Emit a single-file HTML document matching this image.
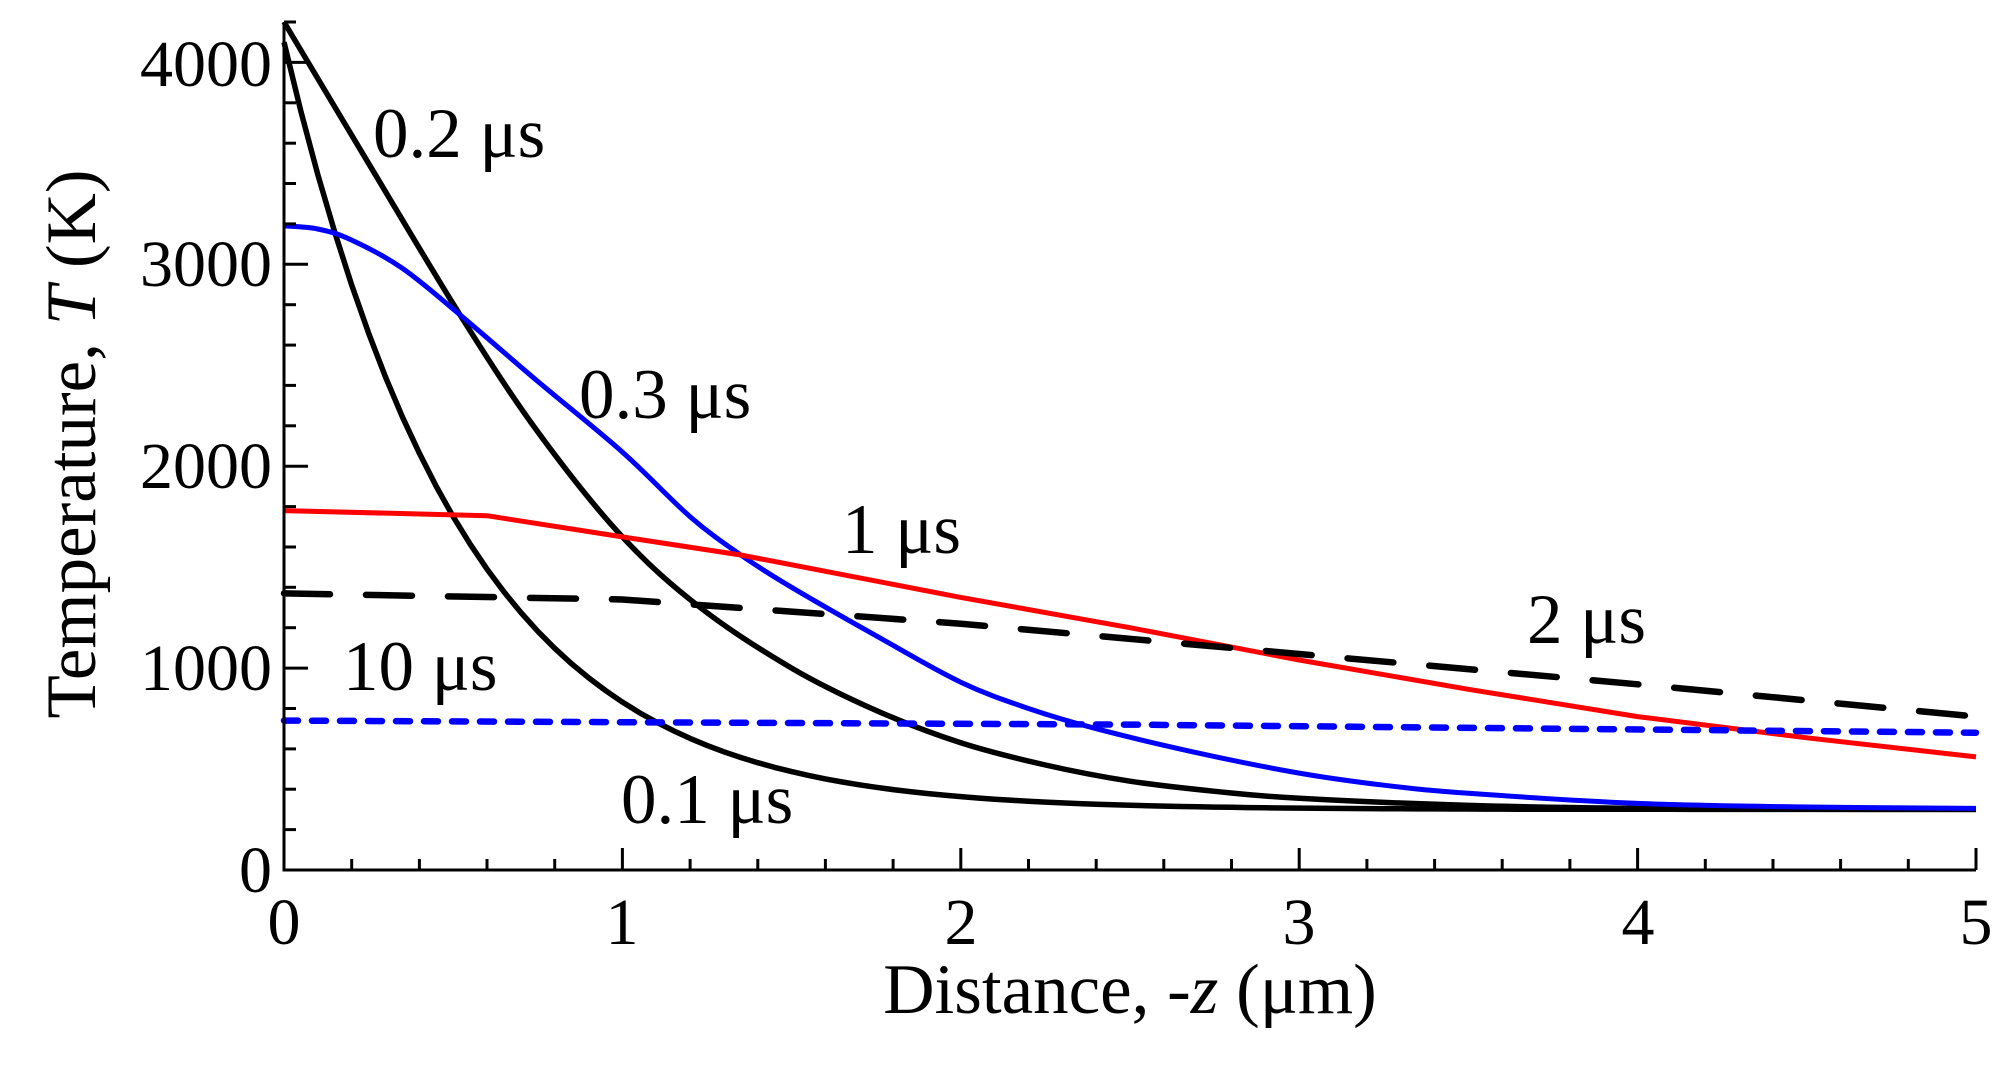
<!DOCTYPE html>
<html><head><meta charset="utf-8"><style>
html,body{margin:0;padding:0;background:#fff;}
svg{display:block;}
text{font-family:"Liberation Serif",serif;fill:#000;}
</style></head><body>
<svg id="s" width="2016" height="1076" viewBox="0 0 2016 1076" xmlns="http://www.w3.org/2000/svg">
<g id="curves" fill="none" stroke-linejoin="round"></g>
<g id="axes" stroke="#000" stroke-width="3" fill="none"></g>
<g font-size="66" text-anchor="end">
<text x="272" y="892">0</text>
<text x="272" y="690">1000</text>
<text x="272" y="488">2000</text>
<text x="272" y="286">3000</text>
<text x="272" y="86">4000</text>
</g>
<g font-size="66" text-anchor="middle">
<text x="284" y="944">0</text>
<text x="622" y="944">1</text>
<text x="961" y="944">2</text>
<text x="1299" y="944">3</text>
<text x="1638" y="944">4</text>
<text x="1976" y="944">5</text>
</g>
<g font-size="71" text-anchor="middle">
<text x="1130" y="1013">Distance, -<tspan font-style="italic">z</tspan> (μm)</text>
<text transform="translate(95,444) rotate(-90)">Temperature,  <tspan font-style="italic">T</tspan> (K)</text>
</g>
<g font-size="71">
<text x="373" y="157">0.2 μs</text>
<text x="579" y="418">0.3 μs</text>
<text x="842" y="553">1 μs</text>
<text x="1527" y="643">2 μs</text>
<text x="343" y="690">10 μs</text>
<text x="621" y="823">0.1 μs</text>
</g>
</svg>
<script>
var X=function(z){return 284+338.4*z},Y=function(t){return 870-0.2019*t};
function cr(p){var P=p.map(function(a){return [X(a[0]),Y(a[1])]});
var d='M'+P[0][0].toFixed(1)+','+P[0][1].toFixed(1);
for(var i=0;i<P.length-1;i++){var p0=P[i-1]||P[i],p1=P[i],p2=P[i+1],p3=P[i+2]||P[i+1];
d+=' C'+(p1[0]+(p2[0]-p0[0])/6).toFixed(1)+','+(p1[1]+(p2[1]-p0[1])/6).toFixed(1)+' '+(p2[0]-(p3[0]-p1[0])/6).toFixed(1)+','+(p2[1]-(p3[1]-p1[1])/6).toFixed(1)+' '+p2[0].toFixed(1)+','+p2[1].toFixed(1);}
return d;}
function lin(p){return 'M'+p.map(function(a){return X(a[0]).toFixed(1)+','+Y(a[1]).toFixed(1)}).join(' L');}
var c=[];
var e=[];for(var z=0;z<=5.001;z+=0.05)e.push([z,300+3800*Math.exp(-z/0.53-0.08*z*z)]);
c.push([lin(e),'#000',5.5,'']);
c.push([cr([[0,4200],[0.25,3500],[0.52,2750],[0.75,2170],[1,1650],[1.23,1300],[1.5,1000],[1.75,790],[2,630],[2.25,520],[2.5,440],[2.75,390],[3,355],[3.5,320],[4,305],[4.5,301],[5,300]]),'#000',5.5,'']);
c.push([cr([[0,3190],[0.1,3175],[0.2,3120],[0.35,2980],[0.52,2750],[0.75,2420],[1,2070],[1.2,1750],[1.35,1560],[1.5,1400],[1.75,1160],[2,930],[2.2,800],[2.4,700],[2.7,580],[3,480],[3.25,420],[3.5,380],[4,330],[4.5,312],[5,305]]),'#0000ff',5,'']);
c.push([lin([[0,1780],[0.6,1755],[1,1650],[1.35,1560],[2,1350],[2.5,1200],[3,1040],[3.5,895],[4,760],[4.5,655],[5,560]]),'#ff0000',5,'']);
c.push([lin([[0,1370],[1,1340],[2,1220],[3,1070],[4,920],[5,760]]),'#000',6.5,'46 36']);
c.push([lin([[0,740],[2.5,720],[5,680]]),'#0000ff',6.5,'14 14']);
var g=document.getElementById('curves'),h='';
c.forEach(function(k){h+='<path d="'+k[0]+'" stroke="'+k[1]+'" stroke-width="'+k[2]+'"'+(k[3]?' stroke-dasharray="'+k[3]+'" stroke-linecap="round"':'')+'/>';});
g.innerHTML=h;
var a='<path d="M284,22 V870 H1976"/>';
for(var i=1;i<=25;i++){var x=X(i*0.2),L=(i%5==0)?22:11;a+='<path d="M'+x.toFixed(1)+',870 v-'+L+'"/>';}
for(var j=1;j<=21;j++){var y=Y(j*200),L=(j%5==0)?24:12;a+='<path d="M284,'+y.toFixed(1)+' h'+L+'"/>';}
document.getElementById('axes').innerHTML=a;
</script>
</body></html>
